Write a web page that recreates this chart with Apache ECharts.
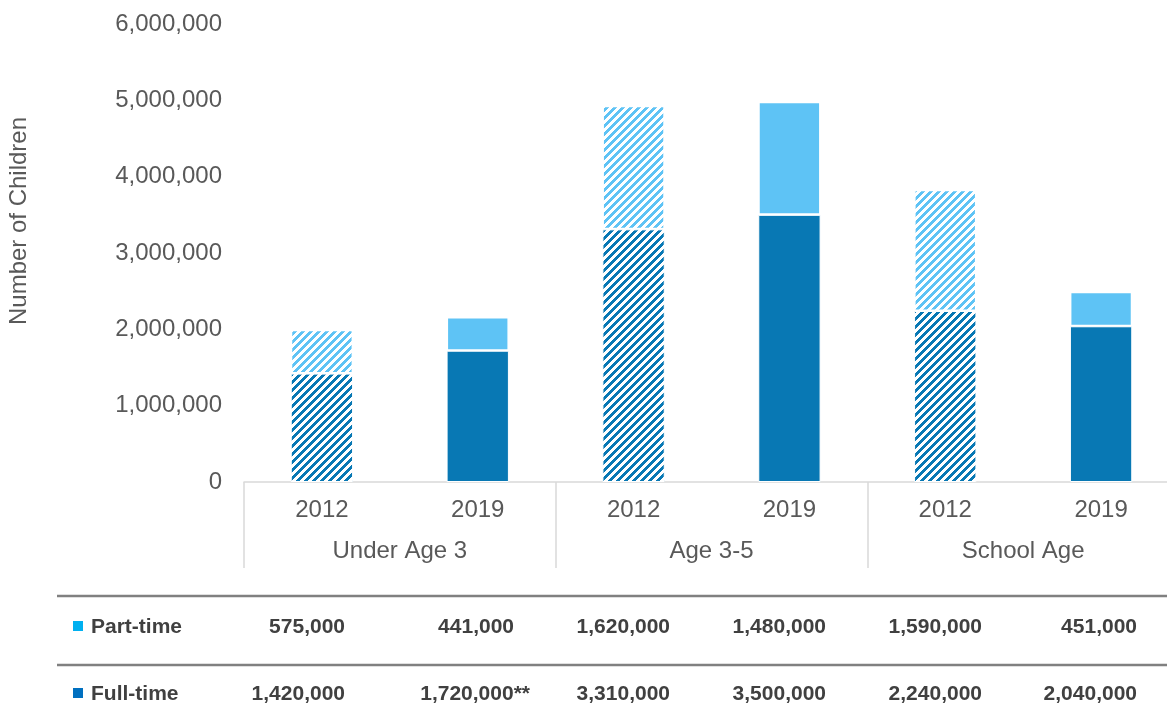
<!DOCTYPE html>
<html>
<head>
<meta charset="utf-8">
<title>Number of Children</title>
<script src="https://cdn.jsdelivr.net/npm/echarts@6/dist/echarts.min.js"></script>
<style>
  html, body { margin: 0; padding: 0; background: #fff; overflow: hidden; }
  /* plot runs a little past the right edge of the window, as in the original */
  #chart { width: 1179px; height: 725px; }
</style>
</head>
<body>
<div id="chart"></div>
<script>
// data
var years = ['2012', '2019', '2012', '2019', '2012', '2019'];
var groups = ['Under Age 3', 'Age 3-5', 'School Age'];
var partTime = [575000, 441000, 1620000, 1480000, 1590000, 451000];
var fullTime = [1420000, 1720000, 3310000, 3500000, 2240000, 2040000];
var fullTimeNotes = ['', '**', '', '', '', ''];
var hatchedYear = '2012';

var FONT = 'Arial, "Liberation Sans", sans-serif';
var PART = '#5ec3f5', FULL = '#0878b4';
var TEXT = '#595959', TABLE_TEXT = '#404040';

// right edge of each table column
var colRight = [345, 514, 670, 826, 982, 1137];

function fmt(v) { return Number(v).toLocaleString('en-US'); }

// stair-step diagonal stripes like the excel pattern fill
function hatch(color) {
  var c = document.createElement('canvas');
  c.width = 8; c.height = 8;
  var ctx = c.getContext('2d');
  ctx.fillStyle = '#fff';
  ctx.fillRect(0, 0, 8, 8);
  ctx.fillStyle = color;
  for (var y = 0; y < 8; y++) {
    for (var x = 0; x < 8; x++) {
      if ((x + y) % 8 < 4) ctx.fillRect(x, y, 1, 1);
    }
  }
  return c;
}

function seriesData(values, color) {
  var pat = { image: hatch(color), repeat: 'repeat' };
  return values.map(function (v, i) {
    if (years[i] === hatchedYear) return { value: v, itemStyle: { color: pat } };
    return v;
  });
}

var chart = echarts.init(document.getElementById('chart'), null, { renderer: 'canvas' });

var graphics = [
  {
    type: 'text', x: 19, y: 221, rotation: Math.PI / 2,
    style: { text: 'Number of Children', font: '24px ' + FONT, fill: TEXT, align: 'center', verticalAlign: 'middle' }
  },
  { type: 'line', shape: { x1: 57, y1: 596, x2: 1179, y2: 596 }, style: { stroke: '#808080', lineWidth: 2.5 } },
  { type: 'line', shape: { x1: 57, y1: 665, x2: 1179, y2: 665 }, style: { stroke: '#808080', lineWidth: 2.5 } },
  { type: 'rect', shape: { x: 73, y: 621, width: 10, height: 10 }, style: { fill: '#00b0f0' } },
  { type: 'rect', shape: { x: 73, y: 688, width: 10, height: 10 }, style: { fill: '#0070c0' } },
  {
    type: 'text', x: 91, y: 627,
    style: { text: 'Part-time', font: 'bold 21px ' + FONT, fill: TABLE_TEXT, verticalAlign: 'middle' }
  },
  {
    type: 'text', x: 91, y: 694,
    style: { text: 'Full-time', font: 'bold 21px ' + FONT, fill: TABLE_TEXT, verticalAlign: 'middle' }
  }
];

for (var i = 0; i < years.length; i++) {
  graphics.push({
    type: 'text', x: colRight[i], y: 627,
    style: { text: fmt(partTime[i]), font: 'bold 21px ' + FONT, fill: TABLE_TEXT, align: 'right', verticalAlign: 'middle' }
  });
  var note = fullTimeNotes[i];
  graphics.push({
    type: 'text', x: colRight[i] + (note ? 16 : 0), y: 694,
    style: { text: fmt(fullTime[i]) + note, font: 'bold 21px ' + FONT, fill: TABLE_TEXT, align: 'right', verticalAlign: 'middle' }
  });
}

var option = {
  animation: false,
  backgroundColor: '#fff',
  textStyle: { fontFamily: FONT },
  grid: { left: 244, right: 0, top: 24, bottom: 243 },
  xAxis: [
    {
      type: 'category',
      position: 'bottom',
      data: years,
      axisLine: { lineStyle: { color: '#d9d9d9', width: 1.5 } },
      axisTick: { show: false },
      axisLabel: { fontSize: 24, color: TEXT, margin: 16, fontFamily: FONT }
    },
    {
      type: 'category',
      position: 'bottom',
      data: groups,
      axisLine: { show: false },
      axisTick: { show: true, length: 86, interval: 0, lineStyle: { color: '#d9d9d9', width: 1.5 } },
      axisLabel: { fontSize: 24, color: TEXT, margin: 57, fontFamily: FONT }
    }
  ],
  yAxis: {
    type: 'value',
    min: 0,
    max: 6000000,
    interval: 1000000,
    axisLine: { show: false },
    axisTick: { show: false },
    splitLine: { show: false },
    axisLabel: { fontSize: 24, color: TEXT, margin: 22, fontFamily: FONT, formatter: fmt }
  },
  series: [
    {
      name: 'Full-time',
      type: 'bar',
      stack: 'total',
      barWidth: '40%',
      data: seriesData(fullTime, FULL),
      itemStyle: { color: FULL, borderColor: '#fff', borderWidth: 1 },
      emphasis: { disabled: true }
    },
    {
      name: 'Part-time',
      type: 'bar',
      stack: 'total',
      barWidth: '40%',
      data: seriesData(partTime, PART),
      itemStyle: { color: PART, borderColor: '#fff', borderWidth: 1.5 },
      emphasis: { disabled: true }
    }
  ],
  graphic: graphics
};

chart.setOption(option);
</script>
</body>
</html>
